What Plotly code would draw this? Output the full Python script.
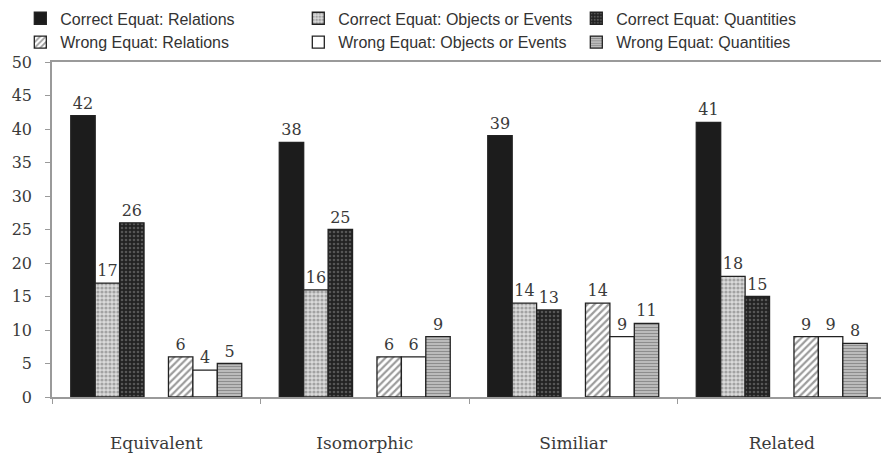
import plotly.graph_objects as go

categories = ["Equivalent", "Isomorphic", "Similiar", "Related"]
correct_relations = [42, 38, 39, 41]
correct_objects = [17, 16, 14, 18]
correct_quantities = [26, 25, 13, 15]
wrong_relations = [6, 6, 14, 9]
wrong_objects = [4, 6, 9, 9]
wrong_quantities = [5, 9, 11, 8]
spacer = [0, 0, 0, 0]

series = [
    ("Correct Equat: Relations", correct_relations,
     dict(color="#1c1c1c", pattern=dict(shape=""))),
    ("Correct Equat: Objects or Events", correct_objects,
     dict(color="#d4d4d4", pattern=dict(shape=".", fgcolor="#6a6a6a", bgcolor="#dadada", size=4, solidity=0.5))),
    ("Correct Equat: Quantities", correct_quantities,
     dict(color="#262626", pattern=dict(shape=".", fgcolor="#8a8a8a", bgcolor="#222222", size=4, solidity=0.35))),
    (None, spacer, None),
    ("Wrong Equat: Relations", wrong_relations,
     dict(color="#ffffff", pattern=dict(shape="/", fgcolor="#3a3a3a", bgcolor="#ffffff", size=5, solidity=0.45))),
    ("Wrong Equat: Objects or Events", wrong_objects,
     dict(color="#ffffff", pattern=dict(shape=""))),
    ("Wrong Equat: Quantities", wrong_quantities,
     dict(color="#bdbdbd", pattern=dict(shape="-", fgcolor="#555555", bgcolor="#c4c4c4", size=3, solidity=0.45))),
]

label_font = dict(family="DejaVu Serif", size=16, color="#3a3a3a")

fig = go.Figure()
for name, vals, marker in series:
    if name is None:
        fig.add_trace(go.Bar(x=categories, y=vals, showlegend=False, hoverinfo="skip",
                             marker=dict(color="rgba(0,0,0,0)", line=dict(width=0))))
        continue
    m = dict(marker)
    m["line"] = dict(color="#222222", width=1.3)
    fig.add_trace(go.Bar(
        x=categories, y=vals, name=name, marker=m,
        text=[str(v) for v in vals], textposition="outside",
        textfont=label_font, cliponaxis=False,
    ))

fig.update_layout(
    width=881, height=450,
    barmode="group", bargap=0.18, bargroupgap=0,
    plot_bgcolor="white", paper_bgcolor="white",
    margin=dict(l=44, r=3, t=54, b=61, autoexpand=False),
    legend=dict(
        orientation="h", x=-0.038, xanchor="left", y=1.181, yanchor="top",
        font=dict(family="Liberation Sans", size=16, color="#333333"),
        entrywidth=233, entrywidthmode="pixels",
        traceorder="normal", itemwidth=30,
        bgcolor="rgba(0,0,0,0)",
    ),
    showlegend=True,
)
fig.update_yaxes(
    range=[0, 50], dtick=5, showgrid=False, zeroline=False, automargin=False,
    showline=True, mirror=True, linecolor="#9a9a9a", linewidth=1.5,
    ticks="outside", ticklen=5, tickcolor="#9a9a9a",
    tickfont=dict(family="DejaVu Serif", size=16, color="#3a3a3a"),
    ticklabelstandoff=10,
)
fig.update_xaxes(
    showgrid=False, showline=True, mirror=True, linecolor="#9a9a9a", linewidth=1.5,
    ticks="outside", ticklen=5, tickcolor="#9a9a9a", tickson="boundaries", automargin=False,
    tickfont=dict(family="DejaVu Serif", size=17, color="#3a3a3a"),
    ticklabelstandoff=30,
)

fig.write_html("out.html")
